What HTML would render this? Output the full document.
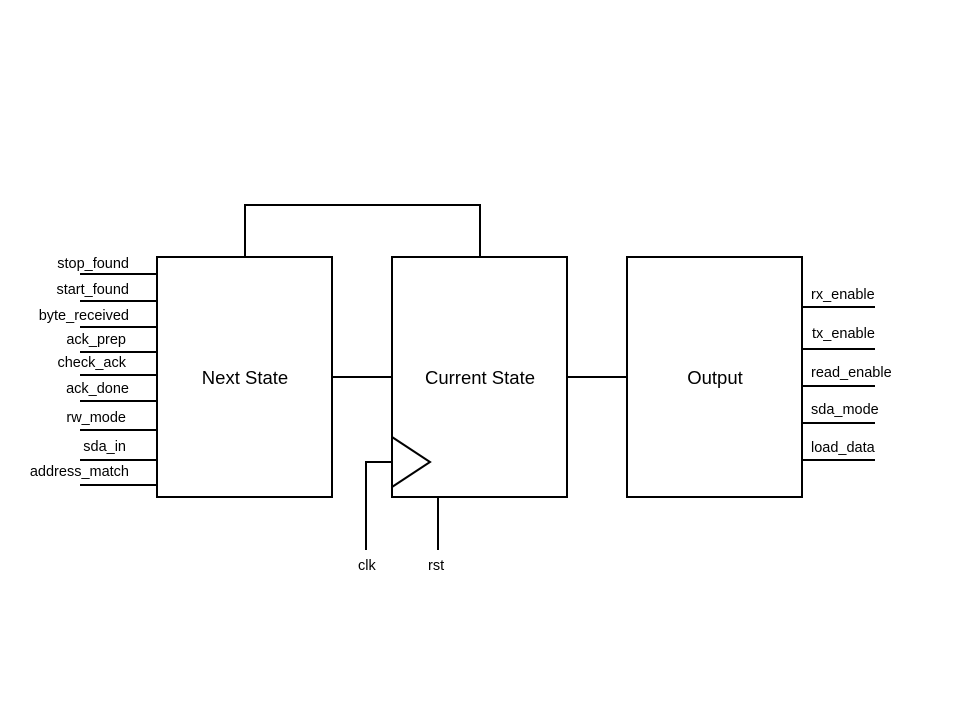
<!DOCTYPE html>
<html><head><style>body{margin:0;background:#fff}</style></head><body>
<svg width="960" height="720" xmlns="http://www.w3.org/2000/svg" font-family="Liberation Sans, Arial, sans-serif">
<rect width="960" height="720" fill="#fff"/>
<g stroke="#000" stroke-width="2" fill="none">
<rect x="157" y="257" width="175" height="240"/>
<rect x="392" y="257" width="175" height="240"/>
<rect x="627" y="257" width="175" height="240"/>
<polyline points="245,257 245,205 480,205 480,257"/>
<line x1="332" y1="377" x2="392" y2="377"/>
<line x1="567" y1="377" x2="627" y2="377"/>
<polyline points="392,437 430,462 392,487"/>
<polyline points="366,550 366,462 392,462"/>
<line x1="438" y1="497" x2="438" y2="550"/>
<g>
<line x1="80" y1="274" x2="157" y2="274"/>
<line x1="80" y1="301" x2="157" y2="301"/>
<line x1="80" y1="327" x2="157" y2="327"/>
<line x1="80" y1="352" x2="157" y2="352"/>
<line x1="80" y1="375" x2="157" y2="375"/>
<line x1="80" y1="401" x2="157" y2="401"/>
<line x1="80" y1="430" x2="157" y2="430"/>
<line x1="80" y1="460" x2="157" y2="460"/>
<line x1="80" y1="485" x2="157" y2="485"/>
</g>
<g>
<line x1="802" y1="307" x2="875" y2="307"/>
<line x1="802" y1="349" x2="875" y2="349"/>
<line x1="802" y1="386" x2="875" y2="386"/>
<line x1="802" y1="423" x2="875" y2="423"/>
<line x1="802" y1="460" x2="875" y2="460"/>
</g>
</g>
<g font-size="14.5" text-anchor="end" fill="#000">
<text x="129" y="268">stop_found</text>
<text x="129" y="294">start_found</text>
<text x="129" y="320">byte_received</text>
<text x="126" y="344">ack_prep</text>
<text x="126" y="367">check_ack</text>
<text x="129" y="393">ack_done</text>
<text x="126" y="422">rw_mode</text>
<text x="126" y="451">sda_in</text>
<text x="129" y="476">address_match</text>
</g>
<g font-size="14.5" fill="#000">
<text x="811" y="299">rx_enable</text>
<text x="812" y="338">tx_enable</text>
<text x="811" y="377">read_enable</text>
<text x="811" y="414">sda_mode</text>
<text x="811" y="452">load_data</text>
<text x="358" y="570">clk</text>
<text x="428" y="570">rst</text>
</g>
<g font-size="18.5" text-anchor="middle" fill="#000">
<text x="245" y="384">Next State</text>
<text x="480" y="384">Current State</text>
<text x="715" y="384">Output</text>
</g>
</svg>
</body></html>
